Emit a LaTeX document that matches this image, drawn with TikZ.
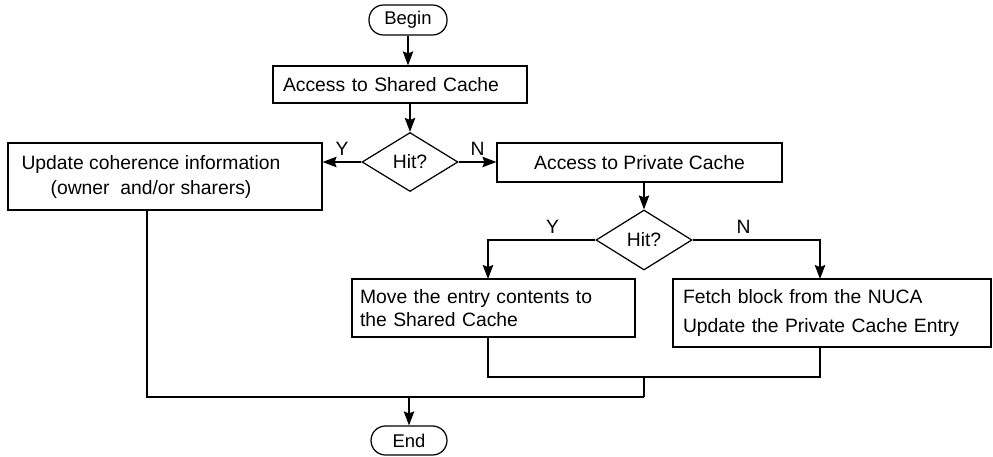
\documentclass[tikz,border=0pt]{standalone}
\usepackage{fontspec}
\setmainfont{Liberation Sans}
\usetikzlibrary{arrows.meta,shapes.geometric}

\begin{document}
\begin{tikzpicture}[x=0.02cm,y=-0.02cm,line width=0.7pt,>={Stealth[length=2.8mm,width=2.1mm,inset=0.4mm]},
        font=\fontsize{11}{13.5}\selectfont,
        box/.style={draw,rectangle,inner sep=0pt},
        term/.style={draw,rectangle,rounded corners=0.29cm,inner sep=0pt,font=\fontsize{10.5}{12}\selectfont},
        test/.style={draw,diamond,inner sep=0pt,minimum width=1.92cm,minimum height=1.18cm}]
                \useasboundingbox (0,0) rectangle (993,456);
                \node[term,minimum width=1.56cm,minimum height=0.6cm](begin)at(408,20){Begin};
                \node[box,minimum width=5.08cm,minimum height=0.74cm,text width=4.68cm,align=left](shared)at(400,84.5){Access to Shared Cache};
                \node[test](hit1)at(410,162){Hit?};
                \node[box,minimum width=6.28cm,minimum height=1.34cm](update)at(165,176.5){};
                \node[align=center,font=\fontsize{11}{14.2}\selectfont](updtext)at(151,177){Update coherence information\\(owner\ \ and/or sharers)};
                \node[box,minimum width=5.7cm,minimum height=0.78cm](private)at(639.5,162.5){Access to Private Cache};
                \node[test,minimum height=1.2cm](hit2)at(644,240){Hit?};
                \node[box,minimum width=5.66cm,minimum height=1.16cm,text width=5.34cm,align=left](move)at(493.5,308){Move the entry contents to\\the Shared Cache};
                \node[box,minimum width=6.36cm,minimum height=1.36cm,text width=5.96cm,align=left,font=\fontsize{11}{17}\selectfont](fetch)at(832,313){Fetch block from the NUCA\\Update the Private Cache Entry};
                \node[term,minimum width=1.52cm,minimum height=0.58cm](end)at(409,440.5){End};
                % points where the branches meet
                \coordinate (movein) at (488,279);
                \coordinate (fetchin) at (820,279);
                \coordinate (updout) at (147,210);
                \coordinate (join) at (644,377);
                \coordinate (merge) at (644,397);
                \draw[->] (begin.south) -- (begin.south |- shared.north);
                \draw[->] (hit1.north |- shared.south) -- (hit1);
                \draw[->] (hit1.west) -- node[above]{Y} (hit1.west -| update.east);
                \draw[->] (hit1.east) -- node[above]{N} (hit1.east -| private.west);
                \draw[->] (private.south -| hit2) -- (hit2);
                \draw[->] (hit2.west) -| node[above,pos=0.2]{Y} (movein);
                \draw[->] (hit2.east) -| node[above,pos=0.2]{N} (fetchin);
                \draw (movein |- move.south) |- (join) -| (fetchin |- fetch.south);
                \draw (join) -- (merge);
                \draw (updout) |- (merge);
                \draw[->] (end.north |- merge) -- (end);
            \end{tikzpicture}
\end{document}
